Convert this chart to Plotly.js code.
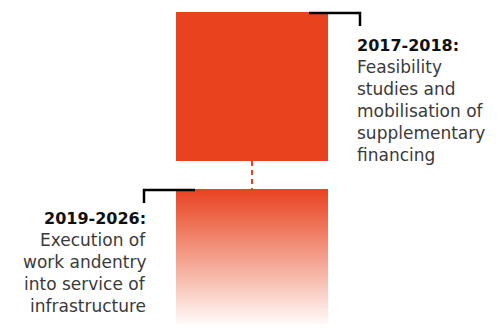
<!DOCTYPE html>
<html><head><meta charset="utf-8">
<script src="https://cdn.plot.ly/plotly-3.0.1.min.js"></script>
<style>html,body{margin:0;padding:0;background:#fff}#chart{width:497px;height:328px}</style>
</head><body><div id="chart"></div>
<script>
// Phases of the project
const phaseYears = ["2017-2018:", "2019-2026:"];
const phaseLines = [
  ["Feasibility", "studies and", "mobilisation of", "supplementary", "financing"],
  ["Execution of", "work andentry", "into service of", "infrastructure"]
];
// vertical extent of each phase block (chart units, top-down)
const phaseStart = [12, 189];
const phaseEnd = [161, 325];

const RED = "#e8421f";
const xL = 176, xR = 328, xMid = 252;

const traces = [];
traces.push({
  type: "scatter", mode: "lines", fill: "toself", fillcolor: RED,
  x: [xL, xR, xR, xL, xL],
  y: [phaseStart[0], phaseStart[0], phaseEnd[0], phaseEnd[0], phaseStart[0]],
  line: {width: 0, color: RED}, hoverinfo: "skip"
});
traces.push({
  type: "scatter", mode: "lines", fill: "toself",
  x: [xL, xR, xR, xL, xL],
  y: [phaseStart[1], phaseStart[1], phaseEnd[1], phaseEnd[1], phaseStart[1]],
  fillgradient: {type: "vertical", start: phaseEnd[1] + 3, stop: phaseStart[1],
    colorscale: [[0, "rgba(255,255,255,1)"], [0.45, "rgb(245,170,152)"], [1, RED]]},
  line: {width: 0, color: RED}, hoverinfo: "skip"
});
traces.push({
  type: "scatter", mode: "lines",
  x: [xMid, xMid], y: [phaseEnd[0], phaseStart[1]],
  line: {color: RED, width: 2, dash: "5px,4px"}, hoverinfo: "skip"
});
traces.push({
  type: "scatter", mode: "lines",
  x: [309, 360, 360], y: [13, 13, 26],
  line: {color: "#000", width: 2.5}, hoverinfo: "skip"
});
traces.push({
  type: "scatter", mode: "lines",
  x: [195, 144, 144], y: [190, 190, 203],
  line: {color: "#000", width: 2.5}, hoverinfo: "skip"
});

const FONT = "DejaVu Sans, sans-serif";
const annotations = [];
function addBlock(i, x, y0, anchor) {
  annotations.push({x: x, y: y0, xref: "x", yref: "y", text: "<b>" + phaseYears[i] + "</b>",
    showarrow: false, xanchor: anchor, yanchor: "middle",
    font: {family: FONT, size: 16, color: "#111"}});
  phaseLines[i].forEach((t, k) => {
    annotations.push({x: x, y: y0 + 22 * (k + 1), xref: "x", yref: "y", text: t,
      showarrow: false, xanchor: anchor, yanchor: "middle",
      font: {family: FONT, size: 17, color: "#3a3a3a"}});
  });
}
addBlock(0, 355, 45, "left");
addBlock(1, 148, 218, "right");

Plotly.newPlot("chart", traces, {
  width: 497, height: 328,
  margin: {l: 0, r: 0, t: 0, b: 0},
  paper_bgcolor: "#fff", plot_bgcolor: "#fff",
  showlegend: false,
  xaxis: {range: [0, 497], visible: false, fixedrange: true},
  yaxis: {range: [328, 0], visible: false, fixedrange: true},
  annotations: annotations
}, {staticPlot: true});
</script></body></html>
